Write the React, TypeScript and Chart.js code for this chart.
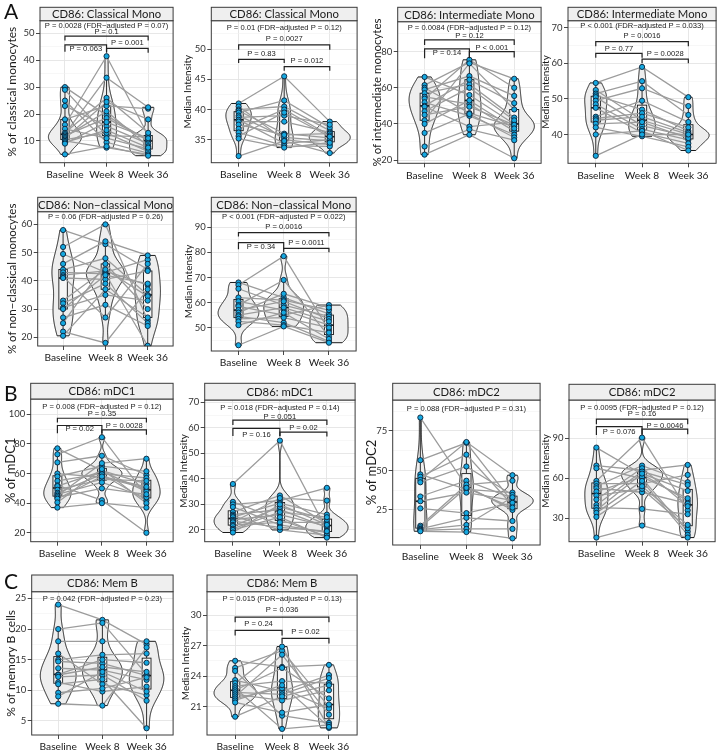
import React, { useEffect, useRef } from 'react';
import { Chart, registerables } from 'chart.js';

Chart.register(...registerables);

const FONT_UI = 'Lato, "Open Sans", sans-serif';
const FONT_P = '"Liberation Sans", Arial, sans-serif';

const TIMEPOINTS = ['Baseline', 'Week 8', 'Week 36'];
const PAIRS: [number, number][] = [[1, 3], [1, 2], [2, 3]];

// ---- A: Classical monocytes (%)
const cmPctBase = [30, 29, 25, 23, 18, 16, 14.5, 13, 12.5, 12, 11.5, 11, 10.5, 10, 9.5, 9, 5];
const cmPctW8 = [19.5, 12, 9.5, 15.5, 23, 41.5, 11, 26, 33.5, 18.5, 21, 24.5, 13, 7.5, 14, 17, 8];
const cmPctW36 = [10, 11.5, 5.5, 9, 22, 12, 7, 13, 22.5, 10.5, 8, 18, 6, 5, 7.5, 11, 4.5];
const cmPctOverall = 'P = 0.0028 (FDR\u2212adjusted P = 0.07)';
const cmPctPairP = ['P = 0.1', 'P = 0.063', 'P = 0.001'];

// ---- A: Classical monocytes (MFI)
const cmMfiBase = [41, 40.5, 40, 39.8, 39.5, 39, 38.7, 38.3, 38, 37.5, 36.8, 36.2, 35.6, 35.2, 32.3];
const cmMfiW8 = [45.5, 35, 40.5, 36, 41.5, 35.4, 39, 34.4, 38, 35.8, 40, 34, 39.5, 33.7, 34.8];
const cmMfiW36 = [38, 34.2, 36.5, 35.3, 37, 34.8, 37.5, 35, 36.2, 36, 35.7, 33.9, 35.5, 34.5, 32.8];
const cmMfiOverall = 'P = 0.01 (FDR\u2212adjusted P = 0.12)';
const cmMfiPairP = ['P = 0.0027', 'P = 0.83', 'P = 0.012'];

// ---- A: Intermediate monocytes (%)
const imPctBase = [66, 61.5, 60, 59, 57, 55, 54, 52, 50, 49.5, 47, 45, 42, 40, 35, 27.5, 23];
const imPctW8 = [56, 74, 46, 66.5, 62, 51, 75.5, 44.5, 64.5, 38.5, 60, 49.5, 73.5, 53, 45.5, 37, 34];
const imPctW36 = [40, 65, 38.5, 55.5, 43.5, 36, 60, 34, 51.5, 41, 42, 39.5, 48, 37.5, 32.5, 31, 21];
const imPctOverall = 'P = 0.0084 (FDR\u2212adjusted P = 0.12)';
const imPctPairP = ['P = 0.12', 'P = 0.14', 'P < 0.001'];

// ---- A: Intermediate monocytes (MFI)
const imMfiBase = [54.5, 52.5, 51.5, 51, 50.5, 49.5, 48.5, 47.5, 45, 44.5, 44, 43, 42, 40, 34];
const imMfiW8 = [59, 44, 55, 47, 42.5, 53, 41.5, 40.5, 49.5, 46, 45, 43.5, 39.5, 41, 40];
const imMfiW36 = [50.5, 40, 45.5, 41, 39.5, 48, 38.5, 37.5, 43.5, 42, 40.5, 39, 36.5, 35.5, 40];
const imMfiOverall = 'P < 0.001 (FDR\u2212adjusted P = 0.033)';
const imMfiPairP = ['P = 0.0016', 'P = 0.77', 'P = 0.0028'];

// ---- A: Non-classical monocytes (%)
const ncPctBase = [58, 52, 49.5, 46, 44, 43, 42, 41.5, 41, 33, 32, 30.5, 30, 27, 25, 22, 20.5];
const ncPctW8 = [53, 60, 43, 54, 48, 42.5, 43.5, 27, 40.5, 44, 39, 35, 42, 31.5, 46, 18, 37];
const ncPctW36 = [44, 26, 47.5, 49, 35, 17, 38.5, 46, 43.5, 34.5, 25, 33, 39, 24, 30, 37, 27];
const ncPctOverall = 'P = 0.06 (FDR\u2212adjusted P = 0.26)';

// ---- A: Non-classical monocytes (MFI)
const ncMfiBase = [68, 67, 65.5, 62, 60.5, 59, 58.5, 57, 56, 55, 54.5, 53.5, 52.5, 51, 43];
const ncMfiW8 = [62, 78.5, 59, 61, 57, 69, 55, 60.5, 63.5, 58, 52, 54, 51, 56, 50.5];
const ncMfiW36 = [55.5, 49, 54.5, 57, 51, 46.5, 59, 53.5, 58, 52.5, 44.5, 50, 48, 45.5, 44];
const ncMfiOverall = 'P < 0.001 (FDR\u2212adjusted P = 0.022)';
const ncMfiPairP = ['P = 0.0016', 'P = 0.34', 'P = 0.0011'];

// ---- B: mDC1 (%)
const mdc1PctBase = [77, 73, 67.5, 60, 58, 55, 52, 51.5, 49, 47, 46, 45, 44, 43, 40.5, 37];
const mdc1PctW8 = [62, 84.5, 72, 57.5, 65, 60, 42, 61.5, 56, 59.5, 54, 67, 50, 58, 63, 40];
const mdc1PctW36 = [53, 45, 59, 50, 61.5, 57, 20, 48, 55, 42, 44, 70, 46, 51, 40, 37];
const mdc1PctOverall = 'P = 0.008 (FDR\u2212adjusted P = 0.12)';
const mdc1PctPairP = ['P = 0.35', 'P = 0.02', 'P = 0.0028'];

// ---- B: mDC1 (MFI)
const mdc1MfiBase = [38, 31, 30, 29, 27, 26, 25.5, 25, 24, 23.5, 23, 22, 21.5, 20.5, 20, 19];
const mdc1MfiW8 = [55, 24, 31.5, 22, 33.5, 28, 20, 30.5, 26, 21, 32.5, 23, 29, 27, 25, 30];
const mdc1MfiW36 = [20, 17.5, 36.5, 19, 22.5, 21, 18, 26, 21.5, 19.5, 31.5, 23, 24, 25, 17, 22];
const mdc1MfiOverall = 'P = 0.018 (FDR\u2212adjusted P = 0.14)';
const mdc1MfiPairP = ['P = 0.051', 'P = 0.16', 'P = 0.02'];

// ---- B: mDC2 (%)
const mdc2PctBase = [83.5, 56.5, 47.5, 46, 44, 42.5, 33.5, 30.5, 26, 15, 14, 13, 12.5, 12, 11.5];
const mdc2PctW8 = [40, 67.5, 38, 60, 68, 52.5, 43.5, 36, 23, 41, 39, 20, 15.5, 13, 11];
const mdc2PctW36 = [25, 30, 36, 28, 47, 34.5, 32.5, 31, 29.5, 43.5, 26.5, 18, 33, 13, 7];
const mdc2PctOverall = 'P = 0.088 (FDR\u2212adjusted P = 0.31)';

// ---- B: mDC2 (MFI)
const mdc2MfiBase = [83, 69.5, 67.5, 58, 56, 54, 52.5, 50, 47, 44, 40, 38, 36, 34, 31, 15.5];
const mdc2MfiW8 = [63, 66, 60, 90.5, 56, 69.5, 49.5, 61, 52, 67.5, 65, 37, 63.5, 58, 54, 24.5];
const mdc2MfiW36 = [43, 70, 20, 36, 62.5, 57, 41, 45, 22.5, 39, 55, 33, 50.5, 17.5, 25, 15.5];
const mdc2MfiOverall = 'P = 0.0095 (FDR\u2212adjusted P = 0.12)';
const mdc2MfiPairP = ['P = 0.16', 'P = 0.076', 'P = 0.0046'];

// ---- C: Memory B (%)
const membPctBase = [24, 20, 18, 16, 15, 14.7, 13.6, 12.6, 12.5, 12.2, 11.3, 11, 9.6, 9, 7.8];
const membPctW8 = [21.5, 21, 18, 11, 15.8, 14.4, 13.3, 15, 13.8, 12.5, 9.8, 11.8, 10.3, 13, 7.5];
const membPctW36 = [17.5, 12.6, 18, 9.2, 16, 12.4, 11.7, 14.5, 13, 8.3, 10.6, 3.8, 12.1, 9.8, 17];
const membPctOverall = 'P = 0.042 (FDR\u2212adjusted P = 0.23)';

// ---- C: Memory B (MFI)
const membMfiBase = [25.5, 24.8, 24.5, 23.6, 23.3, 23, 22.8, 22.6, 22.4, 22.2, 22, 21.8, 21.6, 21.4, 20];
const membMfiW8 = [24.9, 26.5, 20.1, 22.5, 26.9, 23.5, 18.8, 24.8, 22.2, 21.6, 26.1, 22.8, 23.1, 20.4, 22];
const membMfiW36 = [25.1, 21, 19.4, 24.1, 18.9, 23.3, 19.2, 21.8, 23.8, 22.6, 20.2, 20.8, 19, 21.2, 23.1];
const membMfiOverall = 'P = 0.015 (FDR\u2212adjusted P = 0.13)';
const membMfiPairP = ['P = 0.036', 'P = 0.24', 'P = 0.02'];

interface Box { left: number; stripTop: number; top: number; right: number; bottom: number }
interface PanelCfg {
  key: string;
  title: string;
  yTitle: string;
  yTitleSize: number;
  yTitleX: number;
  groups: number[][];
  yMin: number; yMax: number; yStep: number;
  overall: string; overallY: number;
  pairLabels: string[];
  bracketY: number[][]; // [line, leg, labelY] per pair
  box: Box;
}

const PANELS: PanelCfg[] = [
  { key: 'p1', title: 'CD86: Classical Mono', yTitle: '% of classical monocytes', yTitleSize: 12, yTitleX: 12.5,
    groups: [cmPctBase, cmPctW8, cmPctW36], yMin: 1.9, yMax: 54.7, yStep: 10,
    overall: cmPctOverall, overallY: 52.8, pairLabels: cmPctPairP,
    bracketY: [[49.0, 47.3, 50.4], [45.7, 43.2, 44.1], [44.4, 42.8, 46.3]],
    box: { left: 40, stripTop: 7.3, top: 20.7, right: 175, bottom: 162.7 } },
  { key: 'p2', title: 'CD86: Classical Mono', yTitle: 'Median Intensity', yTitleSize: 10, yTitleX: 188,
    groups: [cmMfiBase, cmMfiW8, cmMfiW36], yMin: 31.2, yMax: 54.7, yStep: 5,
    overall: cmMfiOverall, overallY: 53.5, pairLabels: cmMfiPairP,
    bracketY: [[50.7, 49.9, 51.65], [48.3, 47.7, 49.2], [47.1, 46.4, 48.0]],
    box: { left: 211.3, stripTop: 7.3, top: 20.7, right: 358.7, bottom: 162.7 } },
  { key: 'p3', title: 'CD86: Intermediate Mono', yTitle: '% of intermediate monocytes', yTitleSize: 11.5, yTitleX: 377,
    groups: [imPctBase, imPctW8, imPctW36], yMin: 18.2, yMax: 96.6, yStep: 20,
    overall: imPctOverall, overallY: 92.9, pairLabels: imPctPairP,
    bracketY: [[86.5, 83.7, 88.9], [81.5, 76.3, 79.1], [80.0, 76.8, 81.9]],
    box: { left: 397.7, stripTop: 7.3, top: 21.7, right: 542.7, bottom: 163.3 } },
  { key: 'p4', title: 'CD86: Intermediate Mono', yTitle: 'Median Intensity', yTitleSize: 10, yTitleX: 546,
    groups: [imMfiBase, imMfiW8, imMfiW36], yMin: 31.9, yMax: 72, yStep: 10,
    overall: imMfiOverall, overallY: 70.5, pairLabels: imMfiPairP,
    bracketY: [[66.1, 64.8, 67.7], [62.8, 61.6, 64.2], [61.2, 60.0, 62.8]],
    box: { left: 568, stripTop: 7.3, top: 20.7, right: 718, bottom: 163.3 } },
  { key: 'p5', title: 'CD86: Non\u2212classical Mono', yTitle: '% of non\u2212classical monocytes', yTitleSize: 11.5, yTitleX: 12,
    groups: [ncPctBase, ncPctW8, ncPctW36], yMin: 16.9, yMax: 64.5, yStep: 10,
    overall: ncPctOverall, overallY: 62.5, pairLabels: [], bracketY: [],
    box: { left: 37.7, stripTop: 197.3, top: 211.7, right: 175, bottom: 346 } },
  { key: 'p6', title: 'CD86: Non\u2212classical Mono', yTitle: 'Median Intensity', yTitleSize: 10, yTitleX: 189,
    groups: [ncMfiBase, ncMfiW8, ncMfiW36], yMin: 40.7, yMax: 96.2, yStep: 10,
    overall: ncMfiOverall, overallY: 94.3, pairLabels: ncMfiPairP,
    bracketY: [[87.9, 86.3, 90.0], [83.9, 81.2, 82.0], [81.6, 80.0, 83.9]],
    box: { left: 211.3, stripTop: 197.3, top: 211.7, right: 358, bottom: 351 } },
  { key: 'p7', title: 'CD86: mDC1', yTitle: '% of mDC1', yTitleSize: 13, yTitleX: 10.5,
    groups: [mdc1PctBase, mdc1PctW8, mdc1PctW36], yMin: 14, yMax: 110.3, yStep: 20,
    overall: mdc1PctOverall, overallY: 105.2, pairLabels: mdc1PctPairP,
    bracketY: [[97.3, 94.4, 100.2], [92.4, 87.2, 89.9], [89.4, 86.1, 92.4]],
    box: { left: 30.7, stripTop: 383.3, top: 399, right: 175, bottom: 541.7 } },
  { key: 'p8', title: 'CD86: mDC1', yTitle: 'Median Intensity', yTitleSize: 10, yTitleX: 183.5,
    groups: [mdc1MfiBase, mdc1MfiW8, mdc1MfiW36], yMin: 15.4, yMax: 70.9, yStep: 10,
    overall: mdc1MfiOverall, overallY: 67.9, pairLabels: mdc1MfiPairP,
    bracketY: [[63.0, 61.1, 64.4], [59.8, 56.8, 57.4], [58.3, 56.6, 59.8]],
    box: { left: 204.7, stripTop: 383.3, top: 400, right: 357, bottom: 541.7 } },
  { key: 'p9', title: 'CD86: mDC2', yTitle: '% of mDC2', yTitleSize: 13, yTitleX: 372,
    groups: [mdc2PctBase, mdc2PctW8, mdc2PctW36], yMin: 2.8, yMax: 94.6, yStep: 25,
    overall: mdc2PctOverall, overallY: 88.7, pairLabels: [], bracketY: [],
    box: { left: 392.7, stripTop: 383.3, top: 400, right: 541.7, bottom: 545 } },
  { key: 'p10', title: 'CD86: mDC2', yTitle: 'Median Intensity', yTitleSize: 10, yTitleX: 546,
    groups: [mdc2MfiBase, mdc2MfiW8, mdc2MfiW36], yMin: 12.4, yMax: 118.7, yStep: 30,
    overall: mdc2MfiOverall, overallY: 113, pairLabels: mdc2MfiPairP,
    bracketY: [[104.3, 100.5, 108], [98.8, 92.5, 95], [96.8, 93, 99.3]],
    box: { left: 569, stripTop: 384.3, top: 400, right: 717, bottom: 541.7 } },
  { key: 'p11', title: 'CD86: Mem B', yTitle: '% of memory B cells', yTitleSize: 12, yTitleX: 11,
    groups: [membPctBase, membPctW8, membPctW36], yMin: 2.7, yMax: 26.1, yStep: 5,
    overall: membPctOverall, overallY: 25.0, pairLabels: [], bracketY: [],
    box: { left: 31.7, stripTop: 575, top: 591.7, right: 175, bottom: 735 } },
  { key: 'p12', title: 'CD86: Mem B', yTitle: 'Median Intensity', yTitleSize: 10, yTitleX: 186,
    groups: [membMfiBase, membMfiW8, membMfiW36], yMin: 18.2, yMax: 32.3, yStep: 3,
    overall: membMfiOverall, overallY: 31.6, pairLabels: membMfiPairP,
    bracketY: [[29.8, 29.3, 30.5], [28.5, 28.0, 29.1], [27.7, 27.2, 28.3]],
    box: { left: 207, stripTop: 575, top: 591.7, right: 358.7, bottom: 735 } },
];

function groupStats(vals: number[]) {
  const s = [...vals].sort((a, b) => a - b);
  const n = s.length;
  const q = (p: number) => {
    const h = (n - 1) * p; const lo = Math.floor(h); const hi = Math.ceil(h);
    return s[lo] + (h - lo) * (s[hi] - s[lo]);
  };
  const q1 = q(0.25), med = q(0.5), q3 = q(0.75);
  const iqr = q3 - q1;
  const mean = s.reduce((a, b) => a + b, 0) / n;
  const sd = Math.sqrt(s.reduce((a, b) => a + (b - mean) * (b - mean), 0) / (n - 1));
  let lo = Math.min(sd, iqr / 1.34);
  if (!(lo > 0)) lo = sd || 1;
  const bw = 0.9 * lo * Math.pow(n, -0.2);
  const grid: number[] = [];
  const dens: number[] = [];
  const N = 160;
  for (let k = 0; k <= N; k++) {
    const yv = s[0] + ((s[n - 1] - s[0]) * k) / N;
    let d = 0;
    for (const xi of s) { const z = (yv - xi) / bw; d += Math.exp(-0.5 * z * z); }
    grid.push(yv);
    dens.push(d / (n * bw * Math.sqrt(2 * Math.PI)));
  }
  const upper = Math.max(...s.filter((v) => v <= q3 + 1.5 * iqr));
  const lower = Math.min(...s.filter((v) => v >= q1 - 1.5 * iqr));
  return { q1, med, q3, upper, lower, grid, dens, maxD: Math.max(...dens) };
}

function geometry(cfg: PanelCfg) {
  const b = cfg.box;
  const lh = cfg.yTitleSize * 1.2;
  const canvasLeft = Math.floor(cfg.yTitleX - lh / 2 - 1);
  const titlePad = cfg.yTitleX - canvasLeft - lh / 2;
  const yAxisW = b.left - canvasLeft;
  const xAxisH = 22;
  const width = Math.ceil(b.right + 3 - canvasLeft);
  const rightPad = width - (b.right - canvasLeft);
  const canvasTop = Math.floor(b.stripTop - 1);
  const topPad = b.top - canvasTop;
  const height = Math.ceil(b.bottom - canvasTop + xAxisH + 2);
  const bottomPad = height - (b.bottom - canvasTop) - xAxisH;
  return { canvasLeft, canvasTop, width, height, yAxisW, xAxisH, rightPad, topPad, bottomPad, titlePad, stripTopPx: b.stripTop - canvasTop };
}

function buildChart(canvas: HTMLCanvasElement, cfg: PanelCfg) {
  const g = geometry(cfg);
  const step = cfg.yStep;
  const isMajor = (v: number) => Math.abs(v / step - Math.round(v / step)) < 1e-6;
  const yTicks: { value: number }[] = [];
  const half = step / 2;
  for (let v = Math.ceil(cfg.yMin / half) * half; v <= cfg.yMax + 1e-9; v += half) yTicks.push({ value: +v.toFixed(6) });

  const [base, w8, w36] = cfg.groups;
  const lineSets = base.map((_, i) => ({
    data: [{ x: 1, y: base[i] }, { x: 2, y: w8[i] }, { x: 3, y: w36[i] }],
    showLine: true,
    borderColor: '#9c9c9c',
    borderWidth: 1.3,
    pointRadius: 0,
    order: 1,
  }));
  const pointSet = {
    data: cfg.groups.flatMap((arr, gi) => arr.map((v) => ({ x: gi + 1, y: v }))),
    showLine: false,
    pointRadius: 2.6,
    pointBackgroundColor: '#15a8e0',
    pointBorderColor: '#0c2036',
    pointBorderWidth: 0.9,
    order: 0,
  };

  const stats = cfg.groups.map(groupStats);
  const maxD = Math.max(...stats.map((s) => s.maxD));

  const deco = {
    id: 'deco',
    beforeDatasetsDraw(chart: any) {
      const { ctx, scales } = chart;
      const xs = scales.x, ys = scales.y;
      ctx.save();
      stats.forEach((s, i) => {
        const cx = i + 1;
        ctx.beginPath();
        s.grid.forEach((yv, k) => {
          const w = (0.45 * s.dens[k]) / maxD;
          const px = xs.getPixelForValue(cx - w), py = ys.getPixelForValue(yv);
          if (k === 0) ctx.moveTo(px, py); else ctx.lineTo(px, py);
        });
        for (let k = s.grid.length - 1; k >= 0; k--) {
          const w = (0.45 * s.dens[k]) / maxD;
          ctx.lineTo(xs.getPixelForValue(cx + w), ys.getPixelForValue(s.grid[k]));
        }
        ctx.closePath();
        ctx.fillStyle = '#eeeeee';
        ctx.fill();
        ctx.strokeStyle = '#1a1a1a';
        ctx.lineWidth = 1;
        ctx.stroke();
        // boxplot
        const xc = xs.getPixelForValue(cx);
        const bx1 = xs.getPixelForValue(cx - 0.1), bx2 = xs.getPixelForValue(cx + 0.1);
        const yq1 = ys.getPixelForValue(s.q1), yq3 = ys.getPixelForValue(s.q3);
        ctx.lineWidth = 0.9;
        ctx.beginPath();
        ctx.moveTo(xc, yq3); ctx.lineTo(xc, ys.getPixelForValue(s.upper));
        ctx.moveTo(xc, yq1); ctx.lineTo(xc, ys.getPixelForValue(s.lower));
        ctx.stroke();
        ctx.fillStyle = '#f6f6f6';
        ctx.fillRect(bx1, yq3, bx2 - bx1, yq1 - yq3);
        ctx.strokeRect(bx1, yq3, bx2 - bx1, yq1 - yq3);
        ctx.lineWidth = 1.6;
        ctx.beginPath();
        const ym = ys.getPixelForValue(s.med);
        ctx.moveTo(bx1, ym); ctx.lineTo(bx2, ym);
        ctx.stroke();
      });
      ctx.restore();
    },
    afterDraw(chart: any) {
      const { ctx, chartArea, scales } = chart;
      const xs = scales.x, ys = scales.y;
      const { left, right, top, bottom } = chartArea;
      ctx.save();
      // panel border
      ctx.strokeStyle = '#3a3a3a';
      ctx.lineWidth = 1;
      ctx.strokeRect(left, top, right - left, bottom - top);
      // strip
      ctx.fillStyle = '#efefef';
      ctx.fillRect(left, g.stripTopPx, right - left, top - g.stripTopPx);
      ctx.strokeRect(left, g.stripTopPx, right - left, top - g.stripTopPx);
      ctx.fillStyle = '#1a1a1a';
      ctx.font = `11.3px ${FONT_UI}`;
      ctx.textAlign = 'center';
      ctx.textBaseline = 'middle';
      ctx.fillText(cfg.title, (left + right) / 2, (g.stripTopPx + top) / 2 + 0.5);
      // overall p
      ctx.font = `7.6px ${FONT_P}`;
      ctx.fillStyle = '#222';
      ctx.fillText(cfg.overall, (left + right) / 2, ys.getPixelForValue(cfg.overallY));
      // brackets
      cfg.pairLabels.forEach((lab, i) => {
        const [a, b2] = PAIRS[i];
        const [line, leg, ly] = cfg.bracketY[i];
        const x1 = xs.getPixelForValue(a), x2 = xs.getPixelForValue(b2);
        const yl = ys.getPixelForValue(line), yg = ys.getPixelForValue(leg);
        ctx.strokeStyle = '#222';
        ctx.lineWidth = 1.2;
        ctx.beginPath();
        ctx.moveTo(x1, yg); ctx.lineTo(x1, yl); ctx.lineTo(x2, yl); ctx.lineTo(x2, yg);
        ctx.stroke();
        ctx.fillText(lab, (x1 + x2) / 2, ys.getPixelForValue(ly));
      });
      ctx.restore();
    },
  };

  return new Chart(canvas, {
    type: 'scatter',
    data: { datasets: [pointSet, ...lineSets] as any },
    options: {
      responsive: false,
      animation: false,
      events: [],
      layout: { padding: { top: g.topPad, left: 0, right: g.rightPad, bottom: g.bottomPad } },
      plugins: { legend: { display: false }, tooltip: { enabled: false } },
      scales: {
        x: {
          type: 'linear',
          min: 0.4,
          max: 3.6,
          afterBuildTicks: (s: any) => { s.ticks = [1, 2, 3].map((v) => ({ value: v })); },
          afterFit: (s: any) => { s.height = g.xAxisH; },
          ticks: {
            autoSkip: false, maxRotation: 0, minRotation: 0, padding: 2,
            color: '#1a1a1a', font: { family: FONT_UI, size: 10.2 },
            callback: (v: any) => TIMEPOINTS[Math.round(v) - 1],
          },
          grid: { color: '#e4e4e4', lineWidth: 0.9, tickColor: '#333', tickLength: 4 },
          border: { display: false },
        },
        y: {
          type: 'linear',
          min: cfg.yMin,
          max: cfg.yMax,
          afterBuildTicks: (s: any) => { s.ticks = yTicks.map((t) => ({ ...t })); },
          afterFit: (s: any) => { s.width = g.yAxisW; },
          ticks: {
            autoSkip: false, padding: 1.5,
            color: '#333', font: { family: FONT_UI, size: 9.5 },
            callback: (v: any) => (isMajor(v) ? String(Math.round(v)) : ''),
          },
          grid: {
            color: (c: any) => (c.tick && isMajor(c.tick.value) ? '#e4e4e4' : '#f2f2f2'),
            lineWidth: (c: any) => (c.tick && isMajor(c.tick.value) ? 0.9 : 0.6),
            tickColor: (c: any) => (c.tick && isMajor(c.tick.value) ? '#333' : 'rgba(0,0,0,0)'),
            tickLength: 4,
          },
          border: { display: false },
          title: {
            display: true, text: cfg.yTitle, color: '#1a1a1a',
            font: { family: FONT_UI, size: cfg.yTitleSize },
            padding: { top: g.titlePad, bottom: 0 },
          },
        },
      },
    } as any,
    plugins: [deco],
  });
}

function Panel({ cfg }: { cfg: PanelCfg }) {
  const ref = useRef<HTMLCanvasElement | null>(null);
  const g = geometry(cfg);
  useEffect(() => {
    if (!ref.current) return;
    const chart = buildChart(ref.current, cfg);
    return () => chart.destroy();
  }, [cfg]);
  return (
    <canvas
      ref={ref}
      width={g.width}
      height={g.height}
      style={{ position: 'absolute', left: g.canvasLeft, top: g.canvasTop, width: g.width, height: g.height }}
    />
  );
}

const SECTION_LABELS = [
  { text: 'A', left: 4, top: 0 },
  { text: 'B', left: 4, top: 382 },
  { text: 'C', left: 4, top: 570 },
];

export default function App() {
  return (
    <div style={{ position: 'absolute', left: 0, top: 0, width: 727, height: 750, background: '#fff', overflow: 'hidden' }}>
      {PANELS.map((p) => <Panel key={p.key} cfg={p} />)}
      {SECTION_LABELS.map((l) => (
        <div key={l.text} style={{ position: 'absolute', left: l.left, top: l.top, fontFamily: FONT_UI, fontSize: 21, lineHeight: '21px', color: '#111' }}>
          {l.text}
        </div>
      ))}
    </div>
  );
}
